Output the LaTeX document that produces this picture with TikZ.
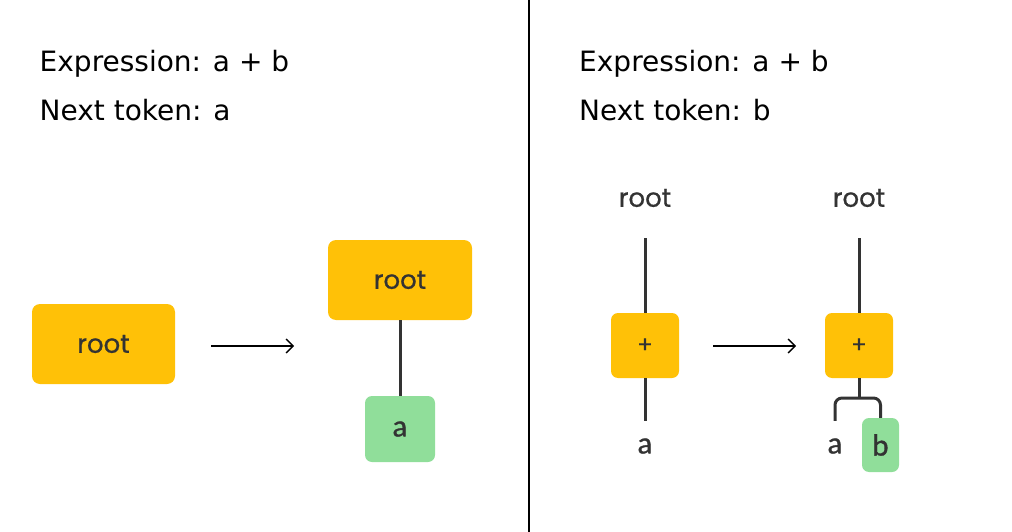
\documentclass[tikz,border=0pt]{standalone}
\usepackage{fontspec}
\setmainfont{DejaVu Sans}
\newfontfamily\treefont{Poppins}[FakeBold=0.8]
\newfontfamily\tokfont{Lato}[FakeBold=1.2]
\usetikzlibrary{arrows.meta}
\definecolor{amber}{HTML}{FFC107}
\definecolor{mint}{HTML}{90DE9A}
\definecolor{ink}{HTML}{333333}

\begin{document}
\begin{tikzpicture}[x=1pt, y=-1pt,
    heading/.style={anchor=base west, inner sep=0pt, font=\fontsize{28}{34}\selectfont},
    opbox/.style={fill=amber, rounded corners=8pt, text=ink, minimum width=143pt, minimum height=80pt, font=\treefont\fontsize{26}{30}\selectfont},
    plusbox/.style={opbox, rounded corners=7pt, minimum width=68pt, minimum height=65pt, font=\treefont\fontsize{23}{26}\selectfont},
    tokbox/.style={fill=mint, rounded corners=7pt, text=ink, inner sep=0pt, font=\tokfont\fontsize{29}{32}\selectfont},
    tok/.style={text=ink, inner sep=0pt, minimum height=50pt, font=\tokfont\fontsize{29}{32}\selectfont},
    lbl/.style={tok, font=\treefont\fontsize{26}{30}\selectfont},
    edge/.style={draw=ink, line width=3pt},
    flow/.style={line width=1.4pt, -{Straight Barb[length=7pt, width=14pt]}}]
        \useasboundingbox (0,0) rectangle (1012,532);

        % Divider
        \coordinate (topmid) at (529,0);
        \coordinate (botmid) at (529,532);
        \draw[line width=2pt] (topmid) -- (botmid);

        % Left side: before and after reading a
        \node[heading] (exprL) at (39.5,71.3) {Expression: a + b};
        \node[heading] (nextL) at (39.5,121) {Next token: a};

        \node[opbox] (rootA) at (103.5,344) {root};
        \node[opbox, minimum width=144pt] (rootB) at (400,280) {root};
        \node[tokbox, minimum width=70pt, minimum height=66pt] (leafA) at (400,429) {a};

        \coordinate (arrLs) at (211,346);
        \coordinate (arrLe) at (294,346);
        \draw[flow] (arrLs) -- (arrLe);
        \draw[edge] (rootB) -- (leafA);

        % Right side: before and after reading b
        \node[heading] (exprR) at (579,71.3) {Expression: a + b};
        \node[heading] (nextR) at (579,121) {Next token: b};

        \node[lbl] (root1) at (645,198) {root};
        \node[plusbox] (plus1) at (645,345.5) {+};
        \node[tok] (a1) at (645,446) {a};

        \node[lbl] (root2) at (859,198) {root};
        \node[plusbox] (plus2) at (859,345.5) {+};
        \node[tok] (a2) at (835,446) {a};
        \node[tokbox, minimum width=37pt, minimum height=54pt] (b2) at (880.5,445) {b};
        \coordinate (fork) at (859,398);

        \coordinate (arrRs) at (713,346);
        \coordinate (arrRe) at (796,346);
        \draw[flow] (arrRs) -- (arrRe);

        \draw[edge, shorten <=15pt] (root1) -- (plus1);
        \draw[edge] (plus1) -- (a1);
        \draw[edge, shorten <=15pt] (root2) -- (plus2);
        \draw[edge] (plus2) -- (fork);
        \draw[edge, rounded corners=7pt] (a2.north) |- (fork) -| (b2.north);
    \end{tikzpicture}
\end{document}
